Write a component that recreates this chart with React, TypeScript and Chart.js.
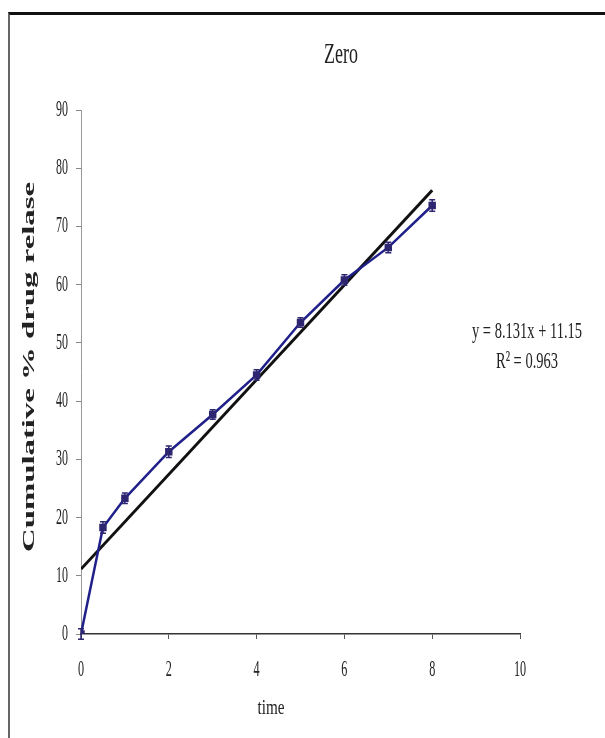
import React, { useEffect, useRef } from "react";
import { Chart, registerables } from "chart.js";

Chart.register(...registerables);

const timePoints = [0, 0.5, 1, 2, 3, 4, 5, 6, 7, 8];
const releaseValues = [0, 18.3, 23.3, 31.3, 37.7, 44.5, 53.5, 60.8, 66.4, 73.6];
const releaseErrors = [0.9, 1.0, 0.9, 1.0, 0.8, 0.9, 0.8, 0.9, 0.9, 1.0];
const trendX = [0, 8];
const trendY = [11.15, 76.2];
const yTicks = [0, 10, 20, 30, 40, 50, 60, 70, 80, 90];
const xTicks = [0, 2, 4, 6, 8, 10];
const chartTitle = "Zero";
const yTitle = "Cumulative % drug relase";
const xTitle = "time";
const equationLines = ["y = 8.131x + 11.15", "R\u00B2 = 0.963"];

const W = 595;
const H = 723;

function drawText(
  ctx: CanvasRenderingContext2D,
  text: string,
  x: number,
  y: number,
  font: string,
  opts: { sx?: number; sy?: number; width?: number; align?: CanvasTextAlign; rot?: number; color?: string }
) {
  ctx.save();
  ctx.font = font;
  const m = ctx.measureText(text).width;
  let sx = opts.sx ?? 1;
  if (opts.width) sx = opts.width / m;
  const sy = opts.sy ?? 1;
  ctx.translate(x, y);
  if (opts.rot) ctx.rotate(opts.rot);
  ctx.scale(sx, sy);
  ctx.fillStyle = opts.color ?? "#222";
  ctx.textAlign = opts.align ?? "center";
  ctx.textBaseline = "middle";
  ctx.fillText(text, 0, 0);
  ctx.restore();
}

const textPlugin = {
  id: "textPlugin",
  afterDraw(chart: any) {
    const ctx: CanvasRenderingContext2D = chart.ctx;
    const xs = chart.scales.x;
    const ys = chart.scales.y;
    const serif = "'Liberation Serif', 'DejaVu Serif', serif";

    // error whiskers
    ctx.save();
    ctx.strokeStyle = "#2e2670";
    ctx.lineWidth = 1.5;
    timePoints.forEach((t, i) => {
      const px = xs.getPixelForValue(t);
      const y1 = ys.getPixelForValue(releaseValues[i] + releaseErrors[i]);
      const y2 = ys.getPixelForValue(releaseValues[i] - releaseErrors[i]);
      ctx.beginPath();
      ctx.moveTo(px, y1);
      ctx.lineTo(px, y2);
      ctx.moveTo(px - 3, y1);
      ctx.lineTo(px + 3, y1);
      ctx.moveTo(px - 3, y2);
      ctx.lineTo(px + 3, y2);
      ctx.stroke();
    });
    ctx.restore();

    // tick labels
    yTicks.forEach((v) => {
      const py = ys.getPixelForValue(v);
      drawText(ctx, String(v), chart.chartArea.left - 13, py, `20px ${serif}`, { sx: 0.6, sy: 1.15, align: "right" });
    });
    xTicks.forEach((v) => {
      const px = xs.getPixelForValue(v);
      drawText(ctx, String(v), px, chart.chartArea.bottom + 36, `21px ${serif}`, { sx: 0.58, sy: 1.12 });
    });

    drawText(ctx, chartTitle, 331, 40, `24px ${serif}`, { width: 34, sy: 1.2 });
    drawText(ctx, xTitle, 261, 693, `19px ${serif}`, { width: 27, sy: 1.15 });
    drawText(ctx, yTitle, 20, 352, `bold 16px ${serif}`, { width: 370, rot: -Math.PI / 2 });
    drawText(ctx, equationLines[0], 517, 317, `20px ${serif}`, { width: 110, sy: 1.2 });
    drawText(ctx, equationLines[1], 517, 347, `20px ${serif}`, { width: 62, sy: 1.2 });
  },
};

export default function App() {
  const ref = useRef<HTMLCanvasElement | null>(null);
  useEffect(() => {
    if (!ref.current) return;
    const chart = new Chart(ref.current, {
      type: "scatter",
      data: {
        datasets: [
          {
            label: "Trend",
            data: trendX.map((x, i) => ({ x, y: trendY[i] })),
            showLine: true,
            borderColor: "#111111",
            borderWidth: 3,
            pointRadius: 0,
            order: 2,
          },
          {
            label: "Release",
            data: timePoints.map((x, i) => ({ x, y: releaseValues[i] })),
            showLine: true,
            borderColor: "#20208a",
            borderWidth: 2.5,
            pointStyle: "rect",
            pointRadius: 3.5,
            pointBackgroundColor: "#2e2670",
            pointBorderColor: "#2e2670",
            order: 1,
          },
        ],
      },
      options: {
        responsive: false,
        animation: false,
        events: [],
        layout: { padding: { left: 0, right: 85, top: 95, bottom: 0 } },
        plugins: { legend: { display: false }, title: { display: false }, tooltip: { enabled: false } },
        scales: {
          x: {
            type: "linear",
            min: 0,
            max: 10,
            ticks: { stepSize: 2, display: false },
            grid: { drawOnChartArea: false, drawTicks: true, tickLength: 5, color: "#555" },
            border: { color: "#333", width: 1.5 },
            afterFit: (s: any) => {
              s.height = 104;
            },
          },
          y: {
            type: "linear",
            min: 0,
            max: 90,
            ticks: { stepSize: 10, display: false },
            grid: { drawOnChartArea: false, drawTicks: true, tickLength: 5, color: "#888" },
            border: { color: "#999", width: 1 },
            afterFit: (s: any) => {
              s.width = 71;
            },
          },
        },
      },
      plugins: [textPlugin],
    });
    return () => chart.destroy();
  }, []);

  return (
    <div
      style={{
        position: "absolute",
        left: 8,
        top: 12,
        width: 597,
        height: 726,
        borderTop: "3px solid #111",
        borderLeft: "2px solid #666",
        boxSizing: "border-box",
        background: "#fff",
      }}
    >
      <canvas ref={ref} width={W} height={H} style={{ display: "block", width: W, height: H }} />
    </div>
  );
}
